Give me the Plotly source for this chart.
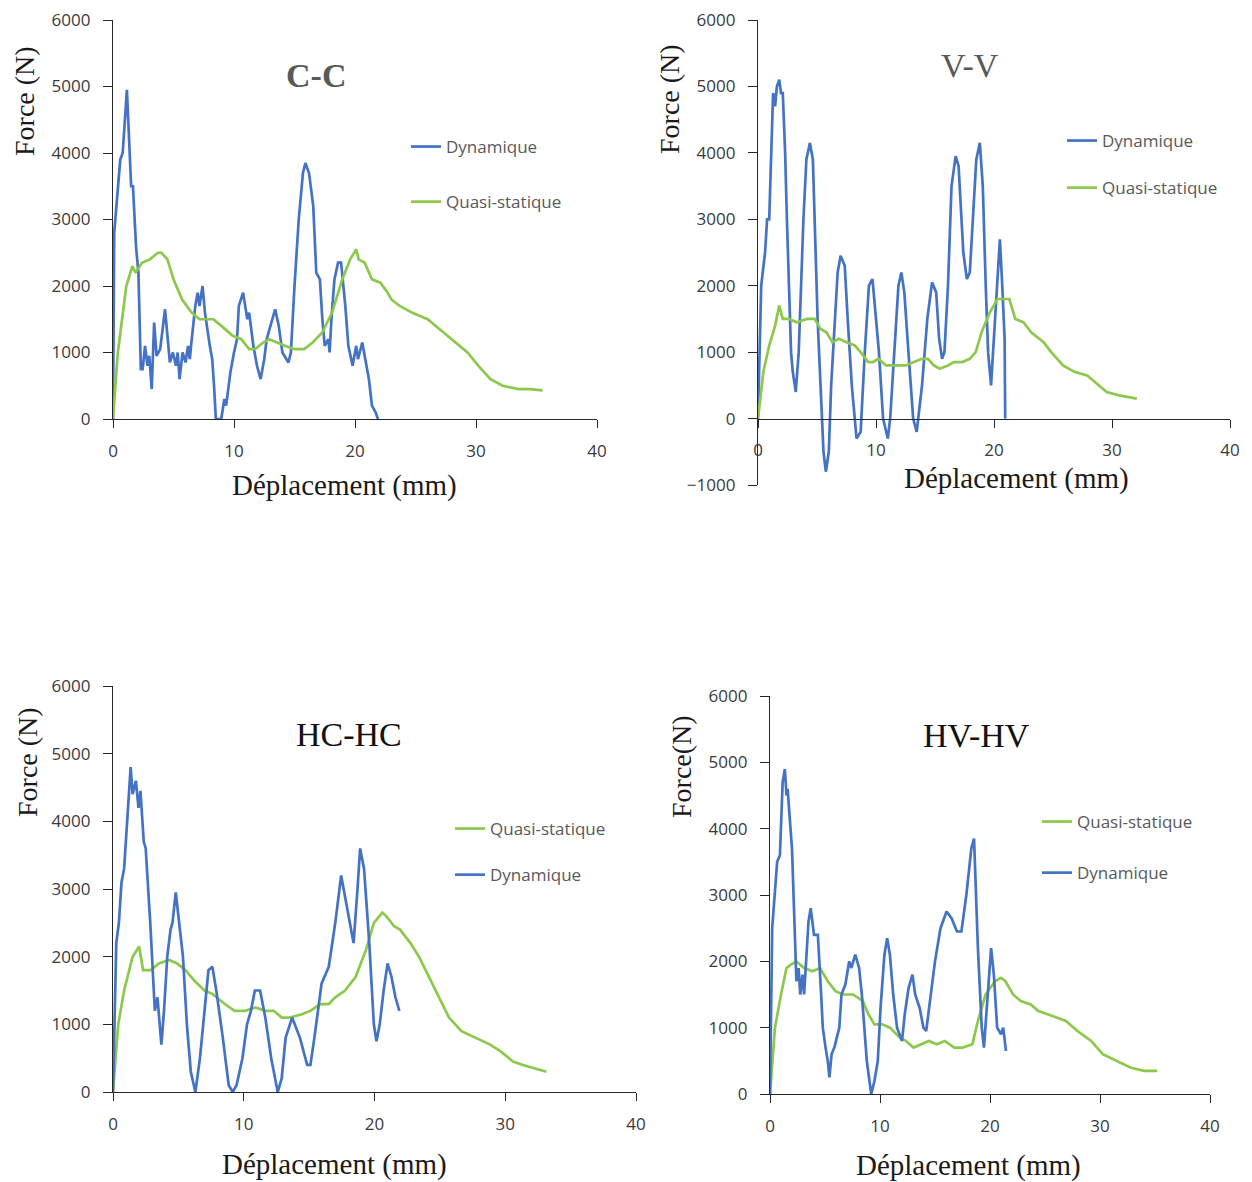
import plotly.graph_objects as go

# ---------------- DATA ----------------
# (displacement mm, force N)
cc_dyn = [(0, 0), (0.1, 2800), (0.6, 3900), (0.8, 4000), (1.15, 4950), (1.5, 3500), (1.65, 3500), (1.9, 2600),
          (2.1, 2200), (2.2, 1500), (2.3, 750), (2.45, 750), (2.65, 1100), (2.85, 800), (3.0, 950), (3.2, 450),
          (3.4, 1450), (3.6, 950), (3.9, 1050), (4.3, 1650), (4.5, 1200), (4.7, 850), (4.95, 1000), (5.2, 800),
          (5.35, 1000), (5.5, 600), (5.75, 1000), (6.0, 850), (6.2, 1100), (6.35, 900), (6.45, 1100), (6.8, 1700),
          (7.0, 1900), (7.15, 1700), (7.4, 2000), (7.6, 1600), (8.0, 1100), (8.2, 900), (8.35, 500), (8.5, 0),
          (8.95, 0), (9.2, 300), (9.35, 200), (9.7, 700), (10.0, 1000), (10.25, 1200), (10.4, 1700), (10.75, 1900),
          (11.1, 1500), (11.25, 1600), (11.6, 1100), (11.9, 800), (12.2, 600), (12.5, 900), (12.7, 1200),
          (13.0, 1400), (13.4, 1650), (13.7, 1400), (14.0, 1000), (14.5, 850), (14.7, 1000), (15.0, 2000),
          (15.35, 3000), (15.7, 3700), (15.9, 3850), (16.2, 3700), (16.55, 3200), (16.8, 2200), (17.1, 2100),
          (17.3, 1500), (17.5, 1100), (17.8, 1200), (17.9, 1000), (18.05, 1500), (18.3, 2100), (18.6, 2350),
          (18.85, 2350), (19.2, 1700), (19.45, 1100), (19.8, 800), (20.1, 1100), (20.25, 900), (20.6, 1150),
          (20.9, 850), (21.15, 600), (21.4, 200), (21.7, 100), (21.9, 0)]
cc_qs = [(0, 0), (0.4, 1000), (0.75, 1500), (1.1, 2000), (1.6, 2300), (1.85, 2200), (2.4, 2350), (3.05, 2400),
         (3.7, 2500), (4.0, 2500), (4.5, 2400), (5.0, 2100), (5.7, 1800), (6.5, 1600), (7.15, 1500), (8.3, 1500),
         (8.95, 1400), (9.9, 1250), (10.6, 1200), (11.25, 1050), (11.75, 1050), (12.4, 1150), (12.9, 1200),
         (13.5, 1150), (14.2, 1100), (15.0, 1050), (15.8, 1050), (16.5, 1150), (17.3, 1300), (18.1, 1600),
         (18.95, 2100), (19.6, 2400), (20.1, 2550), (20.3, 2400), (20.8, 2350), (21.4, 2100), (22.1, 2050),
         (22.7, 1900), (23.0, 1800), (23.7, 1700), (24.7, 1600), (26.0, 1500), (27.3, 1300), (28.6, 1100),
         (29.3, 1000), (30.2, 800), (31.2, 600), (32.2, 500), (33.5, 450), (34.5, 450), (35.5, 430)]

vv_dyn = [(0, 0), (0.27, 2000), (0.6, 2500), (0.77, 3000), (0.95, 3000), (1.1, 4000), (1.28, 4900), (1.45, 4700),
          (1.6, 5000), (1.8, 5100), (1.95, 4900), (2.1, 4900), (2.3, 4000), (2.45, 3000), (2.6, 2000), (2.8, 1000),
          (2.95, 700), (3.2, 400), (3.45, 1000), (3.65, 2000), (3.85, 3000), (4.1, 3900), (4.4, 4150), (4.65, 3900),
          (4.8, 3000), (5.05, 1500), (5.3, 500), (5.55, -500), (5.75, -800), (6.0, -500), (6.2, 500), (6.5, 1500),
          (6.75, 2200), (7.0, 2450), (7.35, 2300), (7.6, 1500), (7.95, 500), (8.35, -300), (8.7, -200), (9.05, 1000),
          (9.4, 2000), (9.7, 2100), (9.85, 1800), (10.25, 1000), (10.6, 0), (11.0, -300), (11.2, 0), (11.55, 1000),
          (11.9, 2000), (12.15, 2200), (12.4, 1900), (12.75, 1000), (13.15, 0), (13.45, -200), (13.9, 500),
          (14.35, 1500), (14.75, 2050), (15.1, 1900), (15.35, 1200), (15.6, 900), (15.8, 1000), (16.1, 2000),
          (16.4, 3500), (16.75, 3950), (17.0, 3800), (17.4, 2500), (17.7, 2100), (17.95, 2200), (18.2, 3000),
          (18.5, 3900), (18.8, 4150), (19.05, 3500), (19.3, 2000), (19.5, 1000), (19.75, 500), (20.1, 1500),
          (20.5, 2700), (20.7, 2000), (20.9, 1200), (20.95, 0)]
vv_qs = [(0, 0), (0.45, 700), (0.95, 1100), (1.45, 1400), (1.8, 1700), (2.1, 1500), (2.6, 1500), (3.3, 1450),
         (4.15, 1500), (4.8, 1500), (5.3, 1350), (5.8, 1300), (6.3, 1150), (6.85, 1200), (7.5, 1150), (8.2, 1100),
         (8.7, 1000), (9.35, 850), (9.75, 850), (10.2, 900), (10.85, 800), (11.7, 800), (12.55, 800), (13.2, 850),
         (13.9, 900), (14.4, 900), (14.9, 800), (15.4, 750), (16.1, 800), (16.6, 850), (17.3, 850), (17.95, 900),
         (18.45, 1000), (18.95, 1300), (19.65, 1600), (20.3, 1800), (21.3, 1800), (21.8, 1500), (22.5, 1450),
         (23.15, 1300), (24.2, 1150), (24.85, 1000), (25.85, 800), (26.85, 700), (27.9, 650), (28.55, 550),
         (29.55, 400), (30.6, 350), (32.1, 300)]

hc_dyn = [(0, 0), (0.25, 2200), (0.45, 2500), (0.65, 3100), (0.85, 3300), (1.1, 4000), (1.35, 4800), (1.5, 4400),
          (1.75, 4600), (1.95, 4200), (2.1, 4450), (2.35, 3700), (2.5, 3600), (2.85, 2500), (3.2, 1200), (3.4, 1400),
          (3.7, 700), (3.9, 1200), (4.15, 2000), (4.4, 2400), (4.55, 2500), (4.8, 2950), (5.0, 2600), (5.35, 2000),
          (5.65, 1000), (5.95, 300), (6.3, 0), (6.5, 300), (6.65, 500), (6.9, 1000), (7.3, 1800), (7.6, 1850),
          (7.9, 1500), (8.4, 800), (8.85, 100), (9.15, 0), (9.45, 100), (9.9, 500), (10.25, 1000), (10.55, 1200),
          (10.85, 1500), (11.25, 1500), (11.65, 1100), (12.1, 500), (12.6, 0), (12.9, 200), (13.2, 800),
          (13.7, 1100), (14.3, 800), (14.85, 400), (15.1, 400), (15.4, 800), (15.95, 1600), (16.5, 1850),
          (17.0, 2500), (17.45, 3200), (17.85, 2800), (18.05, 2600), (18.4, 2200), (18.7, 3000), (18.9, 3600),
          (19.2, 3300), (19.6, 2200), (19.95, 1000), (20.15, 750), (20.4, 1000), (20.7, 1500), (21.0, 1900),
          (21.3, 1700), (21.6, 1400), (21.9, 1200)]
hc_qs = [(0, 0), (0.4, 1000), (0.85, 1500), (1.5, 2000), (2.0, 2150), (2.3, 1800), (2.9, 1800), (3.5, 1900),
         (4.3, 1950), (4.9, 1900), (5.55, 1800), (6.2, 1650), (7.0, 1500), (7.6, 1450), (8.55, 1300), (9.3, 1200),
         (10.1, 1200), (10.9, 1250), (11.65, 1200), (12.3, 1200), (12.9, 1100), (13.5, 1100), (14.45, 1150),
         (15.1, 1200), (15.85, 1300), (16.5, 1300), (17.0, 1400), (17.75, 1500), (18.55, 1700), (19.35, 2100),
         (19.95, 2500), (20.6, 2650), (20.9, 2600), (21.5, 2450), (21.95, 2400), (22.75, 2200), (23.4, 2000),
         (24.15, 1700), (24.95, 1400), (25.7, 1100), (26.65, 900), (27.75, 800), (28.85, 700), (29.65, 600),
         (30.6, 450), (31.35, 400), (32.3, 350), (33.15, 300)]

hv_dyn = [(0, 0), (0.2, 2500), (0.65, 3500), (0.9, 3600), (1.15, 4700), (1.35, 4900), (1.5, 4500), (1.6, 4600),
          (2.0, 3700), (2.25, 2500), (2.4, 1700), (2.6, 1900), (2.75, 1500), (2.95, 1800), (3.1, 1500), (3.5, 2600),
          (3.7, 2800), (4.0, 2400), (4.35, 2400), (4.65, 1500), (4.8, 1000), (5.05, 700), (5.25, 500), (5.4, 250),
          (5.6, 600), (5.85, 700), (6.15, 900), (6.3, 1000), (6.5, 1500), (6.85, 1650), (7.2, 2000), (7.4, 1900),
          (7.75, 2100), (8.1, 1900), (8.35, 1500), (8.55, 1000), (8.8, 500), (9.2, 0), (9.5, 200), (9.8, 500),
          (10.05, 1300), (10.4, 2100), (10.65, 2350), (10.9, 2100), (11.2, 1500), (11.55, 1000), (12.0, 800),
          (12.25, 1200), (12.6, 1600), (12.95, 1800), (13.2, 1500), (13.6, 1300), (13.95, 1000), (14.2, 950),
          (14.65, 1500), (15.0, 2000), (15.5, 2500), (16.05, 2750), (16.5, 2650), (17.0, 2450), (17.4, 2450),
          (17.85, 3000), (18.3, 3700), (18.55, 3850), (18.9, 2200), (19.25, 1000), (19.45, 700), (19.7, 1300),
          (19.85, 1600), (20.1, 2200), (20.35, 1800), (20.65, 1000), (21.0, 900), (21.2, 1000), (21.45, 650)]
hv_qs = [(0, 0), (0.45, 1000), (1.0, 1500), (1.5, 1900), (1.9, 1950), (2.4, 2000), (3.1, 1900), (3.85, 1850),
         (4.55, 1900), (5.25, 1700), (5.95, 1550), (6.65, 1500), (7.55, 1500), (8.45, 1400), (8.95, 1200),
         (9.5, 1050), (10.2, 1050), (10.9, 1000), (11.8, 850), (12.35, 800), (13.05, 700), (13.75, 750),
         (14.45, 800), (15.15, 750), (15.9, 800), (16.75, 700), (17.5, 700), (18.4, 750), (18.9, 1100),
         (19.6, 1500), (20.45, 1700), (21.0, 1750), (21.4, 1700), (22.1, 1500), (22.8, 1400), (23.7, 1350),
         (24.4, 1250), (25.3, 1200), (26.15, 1150), (26.9, 1100), (27.95, 950), (29.2, 800), (30.25, 600),
         (31.5, 500), (32.75, 400), (34.0, 350), (35.2, 350)]

panel_titles = ["C-C", "V-V", "HC-HC", "HV-HV"]
series_names = ["Dynamique", "Quasi-statique"]
x_title = "Déplacement (mm)"
y_titles = ["Force (N)", "Force (N)", "Force (N)", "Force(N)"]
x_ticks = [0, 10, 20, 30, 40]
y_ranges = [(0, 6000), (-1000, 6000), (0, 6000), (0, 6000)]

# ---------------- LAYOUT HELPERS ----------------
# the page body adds an 8px margin: page-pixel positions are shifted by it
OFF = 8
W, H = 1252, 1182
def px(x):
    return (x - OFF) / W
def py(y):
    return 1 - (y - OFF) / H

BLUE = "#4472C4"
GREEN = "#8CC84B"
AXIS = "#262626"
TICKFONT = dict(family="Open Sans", size=17, color="#3a3a3a")
LEGFONT = dict(family="Open Sans", size=17, color="#595959")
SERIF = "Liberation Serif"

panels = [
    dict(data=(cc_dyn, cc_qs), order=(0, 1), xd=(113, 597), yd=(419, 20),
         title_xy=(316, 75), title_color="#595959", title_bold=True,
         xt_xy=(344, 485), yt_xy=(25, 101), leg=(448, 142, 54)),
    dict(data=(vv_dyn, vv_qs), order=(0, 1), xd=(758, 1230), yd=(485, 20),
         title_xy=(970, 66), title_color="#595959", title_bold=False,
         xt_xy=(1016, 478), yt_xy=(670, 99), leg=(1104, 136, 46)),
    dict(data=(hc_dyn, hc_qs), order=(1, 0), xd=(113, 636), yd=(1092, 686),
         title_xy=(349, 734), title_color="#111111", title_bold=False,
         xt_xy=(334, 1164), yt_xy=(28, 762), leg=(492, 824, 45)),
    dict(data=(hv_dyn, hv_qs), order=(1, 0), xd=(770, 1210), yd=(1094, 696),
         title_xy=(976, 735), title_color="#111111", title_bold=False,
         xt_xy=(969, 1165), yt_xy=(681, 767), leg=(1079, 817, 50)),
]

fig = go.Figure()
layout = dict(width=W, height=H, margin=dict(l=0, r=0, t=0, b=0, pad=0, autoexpand=False),
              paper_bgcolor="white", plot_bgcolor="white", showlegend=True,
              annotations=[])

for i, p in enumerate(panels):
    k = "" if i == 0 else str(i + 1)
    xa, ya = "x" + k, "y" + k
    leg = "legend" + k
    dyn, qs = p["data"]
    series = [(series_names[0], dyn, BLUE), (series_names[1], qs, GREEN)]
    for rank, si in enumerate(p["order"]):
        name, pts, col = series[si]
        fig.add_trace(go.Scatter(
            x=[a for a, b in pts], y=[b for a, b in pts], mode="lines", name=name,
            line=dict(color=col, width=2.7), xaxis=xa, yaxis=ya, legend=leg,
            legendgroup=f"g{i}_{rank}", hoverinfo="skip"))

    y0, y1 = y_ranges[i]
    ydom = [py(p["yd"][0]), py(p["yd"][1])]
    xdom = [px(p["xd"][0]), px(p["xd"][1])]
    xaxis = dict(domain=xdom, range=[0, 40], tickvals=x_ticks, showline=True, linecolor=AXIS,
                 linewidth=1.3, ticks="outside", ticklen=8, tickcolor=AXIS, tickwidth=1.3,
                 showgrid=False, zeroline=False, tickfont=TICKFONT, ticklabelstandoff=8,
                 ticklabeloverflow="allow", fixedrange=True, automargin=False)
    if y0 < 0:
        xaxis.update(anchor="free",
                     position=ydom[0] + (0 - y0) / (y1 - y0) * (ydom[1] - ydom[0]))
    else:
        xaxis.update(anchor=ya)
    yaxis = dict(domain=ydom, range=[y0, y1], dtick=1000, showline=True, linecolor=AXIS,
                 linewidth=1.3, ticks="outside", ticklen=9, tickcolor=AXIS, tickwidth=1.3,
                 showgrid=False, zeroline=False, tickfont=TICKFONT, ticklabelstandoff=9,
                 ticklabeloverflow="allow", anchor=xa, fixedrange=True, automargin=False)
    layout["xaxis" + k] = xaxis
    layout["yaxis" + k] = yaxis

    lx, ly, gap = p["leg"]
    layout[leg] = dict(x=px(lx - 42), y=py(ly - 13), xanchor="left", yanchor="top",
                       bgcolor="rgba(0,0,0,0)", font=LEGFONT, traceorder="grouped",
                       tracegroupgap=gap - 24, itemclick=False, itemdoubleclick=False)

    t = panel_titles[i]
    layout["annotations"].append(dict(
        text=f"<b>{t}</b>" if p["title_bold"] else t, x=px(p["title_xy"][0]), y=py(p["title_xy"][1]),
        xref="paper", yref="paper", showarrow=False, xanchor="center", yanchor="middle",
        font=dict(family=SERIF, size=34, color=p["title_color"])))
    layout["annotations"].append(dict(
        text=x_title, x=px(p["xt_xy"][0]), y=py(p["xt_xy"][1]), xref="paper", yref="paper",
        showarrow=False, xanchor="center", yanchor="middle",
        font=dict(family=SERIF, size=29, color="#1a1a1a")))
    layout["annotations"].append(dict(
        text=y_titles[i], x=px(p["yt_xy"][0]), y=py(p["yt_xy"][1]), xref="paper", yref="paper",
        showarrow=False, xanchor="center", yanchor="middle", textangle=-90,
        font=dict(family=SERIF, size=28, color="#1a1a1a")))

fig.update_layout(**layout)
fig.write_html("out.html")
